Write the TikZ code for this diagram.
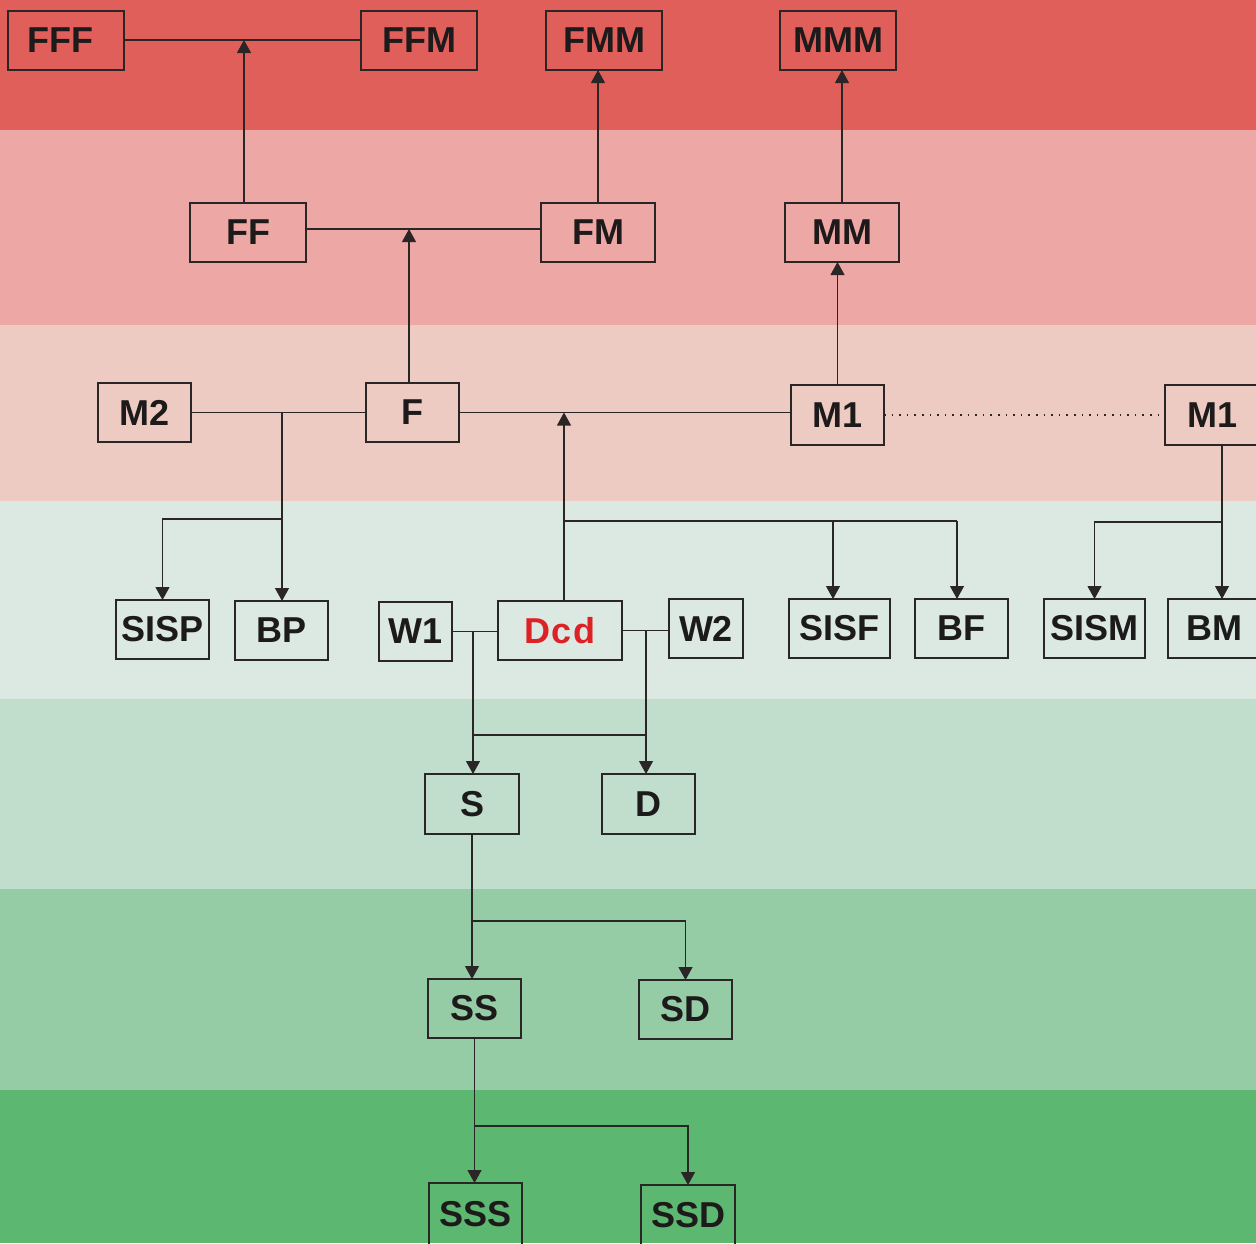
\documentclass[tikz,border=0pt]{standalone}
\usepackage{fontspec}
\setmainfont{Liberation Sans}
\usetikzlibrary{arrows.meta}
\definecolor{bandA}{HTML}{E05F5A}
\definecolor{bandB}{HTML}{EDA7A4}
\definecolor{bandC}{HTML}{EDCAC2}
\definecolor{bandD}{HTML}{DCE9E2}
\definecolor{bandE}{HTML}{C0DECB}
\definecolor{bandF}{HTML}{95CBA5}
\definecolor{bandG}{HTML}{5CB871}
\definecolor{linec}{HTML}{2A2626}
\definecolor{txt}{HTML}{1C1A1A}
\definecolor{redtxt}{HTML}{DD2226}
\newcommand\mybox[7][]{\node[box,#1,minimum width={(#5-#3)*0.5pt},minimum height={(#6-#4)*0.5pt}] (#2) at ({(#3+#5)/2},{(#4+#6)/2}) {#7};}
\begin{document}
\begin{tikzpicture}[x=0.5pt,y=-0.5pt,
  box/.style={draw=linec, line width=0.55pt, inner sep=0pt, outer sep=0pt,
    font=\fontsize{18}{18}\selectfont\bfseries, text=txt},
  ln/.style={draw=linec, line width=0.55pt},
  arr/.style={ln, -{Triangle[length=6.5pt,width=7pt]}}]
\useasboundingbox (0,0) rectangle (1256,1243);
\clip (0,0) rectangle (1256,1243);
% bands
\fill[bandA] (0,0) rectangle (1256,130);
\fill[bandB] (0,130) rectangle (1256,325);
\fill[bandC] (0,325) rectangle (1256,501);
\fill[bandD] (0,501) rectangle (1256,699);
\fill[bandE] (0,699) rectangle (1256,889);
\fill[bandF] (0,889) rectangle (1256,1090);
\fill[bandG] (0,1090) rectangle (1256,1243);
% boxes
\mybox{FFF}{8}{11}{124}{70}{\hspace*{-6pt}\raisebox{-2pt}{FFF}}
\mybox{FFM}{361}{11}{477}{70}{\raisebox{-2pt}{FFM}}
\mybox{FMM}{546}{11}{662}{70}{FMM}
\mybox{MMM}{780}{11}{896}{70}{MMM}
\mybox{FF}{190}{203}{306}{262}{\raisebox{-4pt}{FF}}
\mybox{FM}{541}{203}{655}{262}{FM}
\mybox{MM}{785}{203}{899}{262}{\raisebox{-2pt}{MM}}
\mybox{M2}{98}{383}{191}{442}{M2}
\mybox{F}{366}{383}{459}{442}{F}
\mybox{Ma}{791}{385}{884}{445}{M1}
\mybox{Mb}{1165}{385}{1259}{445}{M1}
\mybox{SISP}{116}{600}{209}{659}{SISP}
\mybox{BP}{235}{601}{328}{660}{BP}
\mybox{W1}{379}{602}{452}{661}{W1}
\mybox[text=redtxt]{Dcd}{498}{601}{622}{660}{\addfontfeature{LetterSpace=4}Dcd}
\mybox{W2}{669}{599}{743}{658}{W2}
\mybox{SISF}{789}{599}{890}{658}{SISF}
\mybox{BF}{915}{599}{1008}{658}{BF}
\mybox{SISM}{1044}{599}{1145}{658}{SISM}
\mybox{BM}{1168}{599}{1260}{658}{BM}
\mybox{S}{425}{774}{519}{834}{S}
\mybox{D}{602}{774}{695}{834}{D}
\mybox{SS}{428}{979}{521}{1038}{SS}
\mybox{SD}{639}{980}{732}{1039}{SD}
\mybox{SSS}{429}{1183}{522}{1275}{\raisebox{15pt}{SSS}}
\mybox{SSD}{641}{1185}{735}{1275}{\raisebox{15pt}{SSD}}
% helper coordinates
\coordinate (xFF) at (244,0);
\coordinate (xF) at (409,0);
\coordinate (xDcd) at (564,0);
\coordinate (xBP) at (282,0);
\coordinate (xM) at (1222,0);
\coordinate (xS) at (473,0);
\coordinate (xD) at (646,0);
\coordinate (xSISF) at (833,0);
\coordinate (xBF) at (957,0);
\coordinate (yTop) at (0,40);
\coordinate (yMid) at (0,229);
\coordinate (yP) at (0,519);
\coordinate (yDb) at (0,521);
\coordinate (yMb) at (0,522);
\coordinate (yW) at (0,735);
\coordinate (yS) at (0,921);
\coordinate (ySS) at (0,1126);
% top level
\draw[ln] (FFF.east |- yTop) -- (FFM.west |- yTop);
\draw[arr] (xFF |- FF.north) -- (xFF |- yTop);
\draw[ln] (FF.east |- yMid) -- (FM.west |- yMid);
\draw[arr] (xF |- F.north) -- (xF |- yMid);
\draw[arr] (FM.north) -- (FM.north |- FMM.south);
\draw[arr] (MM.north) -- (MM.north |- MMM.south);
\draw[arr] (Ma.north) -- (Ma.north |- MM.south);
% middle
\draw[ln] (M2.east) -- (F.west);
\draw[ln] (F.east) -- (F.east -| Ma.west);
\draw[ln, dash pattern=on 0.8pt off 3pt] (Ma.east) -- (Mb.west);
\draw[arr] (xBP |- M2.east) -- (xBP |- BP.north);
\draw[arr] (xBP |- yP) -| (SISP.north);
\draw[arr] (xDcd |- Dcd.north) -- (xDcd |- F.east);
\draw[ln] (xDcd |- yDb) -- (xBF |- yDb);
\draw[arr] (xSISF |- yDb) -- (xSISF |- SISF.north);
\draw[arr] (xBF |- yDb) -- (xBF |- BF.north);
\draw[arr] (xM |- Mb.south) -- (xM |- BM.north);
\draw[arr] (xM |- yMb) -| (SISM.north);
% lower
\draw[ln] (W1.east) -- (W1.east -| Dcd.west);
\draw[ln] (Dcd.east) -- (Dcd.east -| W2.west);
\draw[arr] (xS |- W1.east) -- (xS |- S.north);
\draw[arr] (xD |- Dcd.east) -- (xD |- D.north);
\draw[ln] (xS |- yW) -- (xD |- yW);
\draw[arr] (S.south) -- (S.south |- SS.north);
\draw[arr] (S.south |- yS) -| (SD.north);
\draw[arr] (SS.south) -- (SS.south |- SSS.north);
\draw[arr] (SS.south |- ySS) -| (SSD.north);
\end{tikzpicture}
\end{document}
